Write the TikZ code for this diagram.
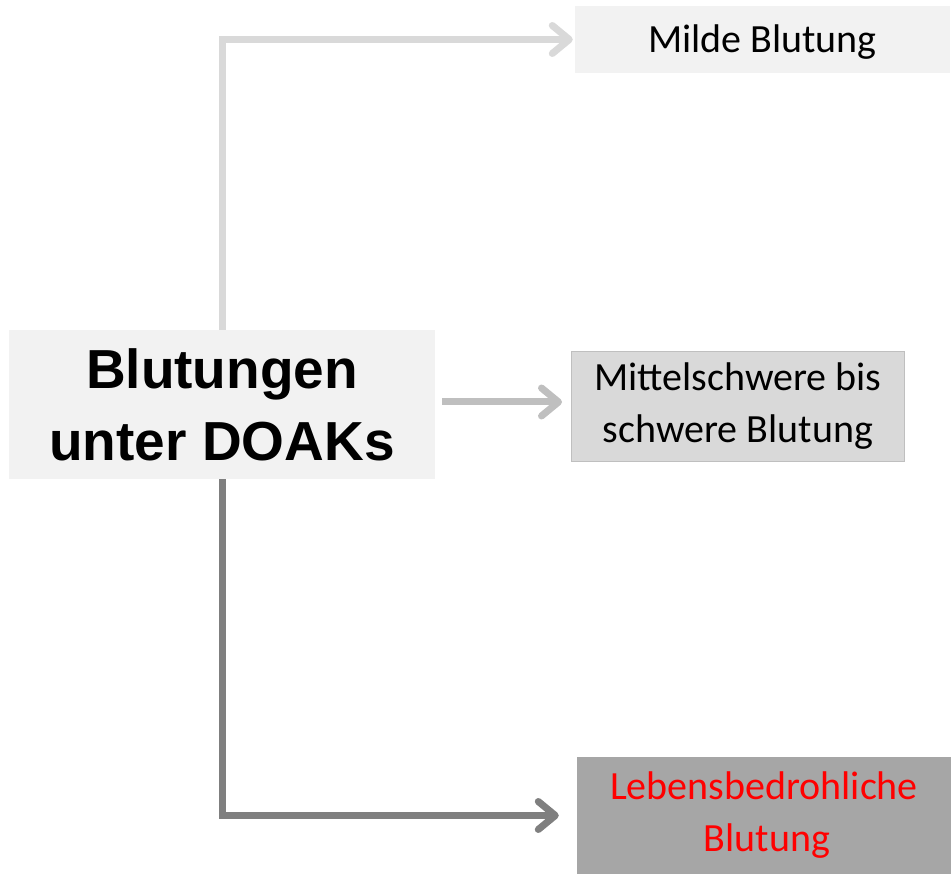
\documentclass[tikz,border=0pt]{standalone}
\usepackage{fontspec}
\setmainfont{Carlito}
\newfontfamily\headfont{Liberation Sans}
\usetikzlibrary{arrows.meta}

\definecolor{fillpale}{HTML}{F2F2F2}
\definecolor{fillmid}{HTML}{D9D9D9}
\definecolor{edgemid}{HTML}{BFBFBF}
\definecolor{filldark}{HTML}{A6A6A6}
\definecolor{linelight}{HTML}{D9D9D9}
\definecolor{linemid}{HTML}{BFBFBF}
\definecolor{linedark}{HTML}{7F7F7F}
\definecolor{alarmred}{HTML}{FF0000}

\tikzset{
  box/.style={rectangle, inner sep=0pt, align=center,
    font=\fontsize{40}{52}\selectfont},
  rootbox/.style={rectangle, inner sep=0pt, align=center, fill=fillpale,
    font=\headfont\bfseries\fontsize{55}{72}\selectfont},
  link/.style={line width=7pt,
    -{Straight Barb[length=17pt,width=28pt,line cap=round,line join=round]}},
}

\begin{document}
\begin{tikzpicture}[x=1pt,y=-1pt]
\useasboundingbox (0,0) rectangle (951,874);

% root category
\node[rootbox, minimum width=426pt, minimum height=149pt] (root) at (222,404.5)
  {Blutungen\\unter DOAKs};

% severity levels
\node[box, fill=fillpale, minimum width=375pt, minimum height=67pt] (mild) at (762.5,39.5)
  {\raisebox{-3pt}[\height][\depth]{Milde Blutung}};
\node[box, fill=fillmid, draw=edgemid, line width=1pt,
      minimum width=333pt, minimum height=110pt] (severe) at (738,406.5)
  {Mittelschwere bis\\schwere Blutung};
\node[box, fill=filldark, text=alarmred, minimum width=374pt, minimum height=117pt] (fatal) at (764,815.5)
  {Lebensbedrohliche\\\hspace*{6pt}Blutung};

% connectors
\draw[link, linelight, shorten >=2pt] (root.north) |- (mild.west);
\draw[link, linemid, line cap=rect, shorten >=9pt]
  ([xshift=10pt,yshift=2.5pt]root.east) -- ([yshift=2.5pt]root.east -| severe.west);
\draw[link, linedark, shorten >=18pt] (root.south) |- (fatal.west);
\end{tikzpicture}
\end{document}
